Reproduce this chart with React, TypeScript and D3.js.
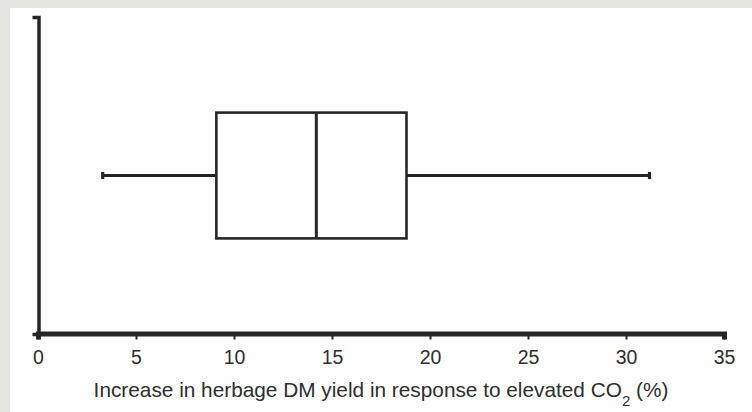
import React, { useEffect, useRef } from "react";
import * as d3 from "d3";

// Summary statistics of the yield response (%)
const categories = ["Elevated CO2"];
const whiskerLow = [3.3];
const quartile1 = [9.1];
const medians = [14.2];
const quartile3 = [18.8];
const whiskerHigh = [31.2];
const xTicks = [0, 5, 10, 15, 20, 25, 30, 35];

const W = 752;
const H = 412;
const INK = "#262626";
const FONT = "'Liberation Sans', Arial, sans-serif";

export default function App() {
  const ref = useRef<SVGSVGElement>(null);

  useEffect(() => {
    const svg = d3.select(ref.current);
    svg.selectAll("*").remove();

    // page frame
    svg.append("rect").attr("width", W).attr("height", H).attr("fill", "#e4e4e0");
    svg.append("rect").attr("x", 10).attr("y", 8).attr("width", W - 10).attr("height", H - 8).attr("fill", "#ffffff");

    const x = d3.scaleLinear().domain([0, 35]).range([38, 724]);
    const y = d3.scaleBand<string>().domain(categories).range([17, 334]).paddingInner(0).paddingOuter(0.76);

    // y axis: bare line with outer hooks
    const yAxis = svg.append("g").attr("transform", "translate(38.5,0)")
      .call(d3.axisLeft(y).tickValues([]).tickSizeOuter(6));
    yAxis.select(".domain").attr("stroke", INK).attr("stroke-width", 3.5);

    // x axis
    const xAxis = svg.append("g").attr("transform", "translate(0,333.5)")
      .call(d3.axisBottom(x).tickValues(xTicks).tickSizeInner(6).tickSizeOuter(6).tickPadding(10.5).tickFormat(d3.format("d")));
    xAxis.select(".domain").attr("stroke", INK).attr("stroke-width", 5);
    xAxis.selectAll(".tick line").attr("stroke", INK).attr("stroke-width", 2);
    xAxis.selectAll(".tick text")
      .attr("fill", "#2e2e2e")
      .attr("font-family", FONT)
      .attr("font-size", 19.5);

    // axis title with subscript
    const title = svg.append("text")
      .attr("x", 381).attr("y", 397)
      .attr("text-anchor", "middle")
      .attr("font-family", FONT).attr("font-size", 20.8).attr("fill", "#2e2e2e");
    title.append("tspan").text("Increase in herbage DM yield in response to elevated CO");
    title.append("tspan").attr("dy", 9).attr("font-size", 15).text("2");
    title.append("tspan").attr("dy", -9).text(" (%)");

    // box plots
    const g = svg.append("g");
    categories.forEach((c, i) => {
      const top = y(c)!;
      const bw = y.bandwidth();
      const mid = top + bw / 2;
      const line = (x1: number, y1: number, x2: number, y2: number, sw = 2.8) =>
        g.append("line").attr("x1", x1).attr("y1", y1).attr("x2", x2).attr("y2", y2)
          .attr("stroke", INK).attr("stroke-width", sw);

      // whiskers
      line(x(whiskerLow[i]), mid, x(quartile1[i]), mid);
      line(x(quartile3[i]), mid, x(whiskerHigh[i]), mid);
      line(x(whiskerLow[i]), mid - 3.5, x(whiskerLow[i]), mid + 3.5, 3.2);
      line(x(whiskerHigh[i]), mid - 3.5, x(whiskerHigh[i]), mid + 3.5, 3.2);

      // box
      g.append("rect")
        .attr("x", x(quartile1[i])).attr("y", top)
        .attr("width", x(quartile3[i]) - x(quartile1[i])).attr("height", bw)
        .attr("fill", "none").attr("stroke", INK).attr("stroke-width", 2.6);

      // median
      line(x(medians[i]), top, x(medians[i]), top + bw, 3);
    });
  }, []);

  return (
    <svg
      ref={ref}
      width={W}
      height={H}
      style={{ position: "absolute", left: 0, top: 0, display: "block" }}
    />
  );
}
